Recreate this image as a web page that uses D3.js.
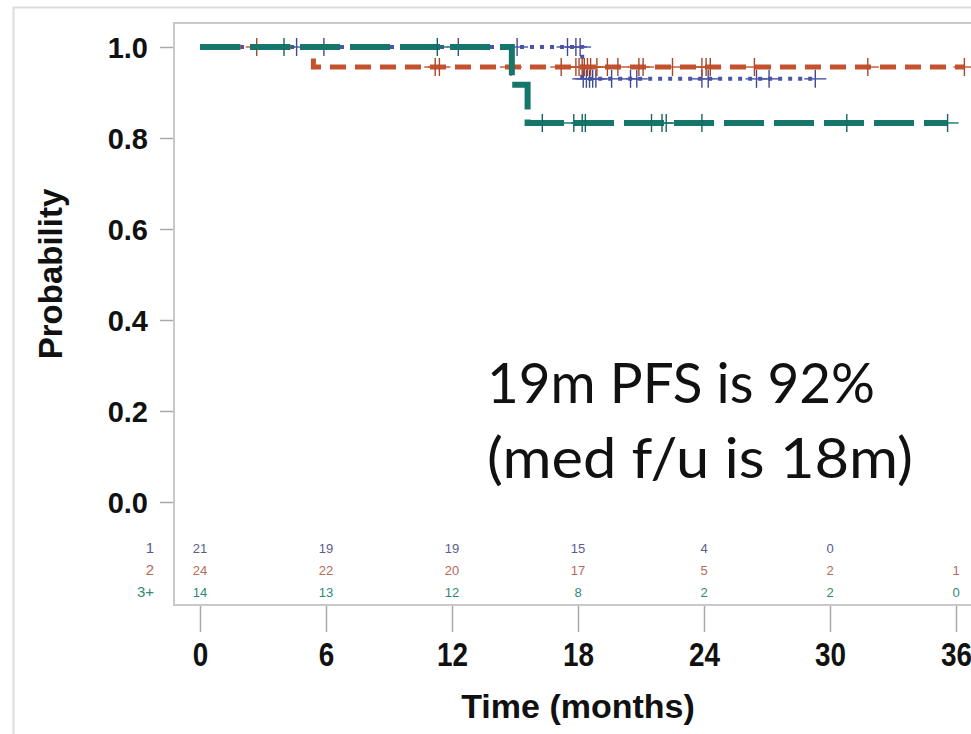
<!DOCTYPE html>
<html>
<head>
<meta charset="utf-8">
<script src="https://cdn.jsdelivr.net/npm/d3@7"></script>
<style>
  html, body { margin: 0; padding: 0; background: #fff; }
  svg { display: block; }
</style>
</head>
<body>
<svg id="chart" width="971" height="734"></svg>
<script>
// Kaplan-Meier PFS by group: step times (months) and survival after each step
const groups = ["1", "2", "3+"];
const stepTimes1 = [0, 18.2];
const stepSurv1  = [1.0, 0.93];
const endTime1   = 29.3;
const stepTimes2 = [0, 5.4];
const stepSurv2  = [1.0, 0.956];
const endTime2   = 36.4;
const stepTimes3 = [0, 14.85, 15.6];
const stepSurv3  = [1.0, 0.917, 0.833];
const endTime3   = 35.6;

// Censoring times (months)
const censor1 = [4.6, 5.9, 12.3, 15.1, 17.5, 17.9, 18.1, 18.25, 18.4, 18.55, 18.7, 18.85,
                 19.6, 20.5, 20.8, 23.9, 24.2, 26.5, 27.1, 29.3];
const censor2 = [2.7, 11.2, 11.4, 14.8, 17.2, 17.9, 18.05, 18.2, 18.3, 18.45, 18.6, 18.9,
                 19.4, 19.9, 20.9, 21.1, 22.5, 23.9, 24.1, 24.3, 26.4, 31.8, 36.4];
const censor3 = [4.0, 11.3, 16.3, 17.8, 18.2, 18.35, 21.5, 22.0, 22.2, 23.9, 30.8, 35.6];

// Number at risk
const riskTimes = [0, 6, 12, 18, 24, 30, 36];
const risk1 = [21, 19, 19, 15, 4, 0, null];
const risk2 = [24, 22, 20, 17, 5, 2, 1];
const risk3 = [14, 13, 12, 8, 2, 2, 0];

const xTicks = [0, 6, 12, 18, 24, 30, 36];
const yTicks = [0, 0.2, 0.4, 0.6, 0.8, 1.0];

const annotationLines = ["19m PFS is 92%", "(med f/u is 18m)"];

const lineColors  = ["#4a55a8", "#c4522e", "#16766b"];
const textColors  = ["#5b5b8e", "#b86a58", "#2f8a74"];

const svg = d3.select("#chart");
const x = d3.scaleLinear().domain([0, 36]).range([200, 956]);
const y = d3.scaleLinear().domain([0, 1]).range([502, 47]);

// outer panel border
svg.append("rect").attr("x", 13.5).attr("y", 7.5).attr("width", 1000).attr("height", 760)
  .attr("fill", "none").attr("stroke", "#dcdcdc").attr("stroke-width", 2);

// plot frame
svg.append("rect").attr("x", 174).attr("y", 23).attr("width", 900).attr("height", 582)
  .attr("fill", "none").attr("stroke", "#c9c9c9").attr("stroke-width", 2);

// y axis
const yAxis = svg.append("g").attr("transform", "translate(173,0)")
  .call(d3.axisLeft(y).tickValues(yTicks).tickFormat(d3.format(".1f")).tickSize(13).tickPadding(12));
yAxis.select(".domain").remove();
yAxis.selectAll(".tick line").attr("stroke", "#a8a8a8").attr("stroke-width", 1.5);
yAxis.selectAll(".tick text")
  .attr("font-family", "Liberation Sans, Arial, sans-serif")
  .attr("font-weight", "bold").attr("font-size", 29).attr("fill", "#111")
  .attr("dy", "0.36em");

// x axis (labels slightly condensed)
const xAxis = svg.append("g").attr("transform", "translate(0,606)")
  .call(d3.axisBottom(x).tickValues(xTicks).tickSize(26).tickPadding(10));
xAxis.select(".domain").remove();
xAxis.selectAll(".tick line").attr("stroke", "#a8a8a8").attr("stroke-width", 1.5);
xAxis.selectAll(".tick text")
  .attr("font-family", "Liberation Sans, Arial, sans-serif")
  .attr("font-weight", "bold").attr("font-size", 34).attr("fill", "#111")
  .attr("transform", "scale(0.82,1)");

// axis titles
svg.append("text").attr("x", 578).attr("y", 718).attr("text-anchor", "middle")
  .attr("font-family", "Liberation Sans, Arial, sans-serif").attr("font-weight", "bold")
  .attr("font-size", 34).attr("fill", "#111").text("Time (months)");
svg.append("text").attr("transform", "translate(62,274) rotate(-90)").attr("text-anchor", "middle")
  .attr("font-family", "Liberation Sans, Arial, sans-serif").attr("font-weight", "bold")
  .attr("font-size", 33).attr("fill", "#111").text("Probability");

// survival curves
const series = [
  { times: stepTimes1, surv: stepSurv1, end: endTime1, censor: censor1, dash: "4,6", width: 4 },
  { times: stepTimes2, surv: stepSurv2, end: endTime2, censor: censor2, dash: "16,9", width: 5 },
  { times: stepTimes3, surv: stepSurv3, end: endTime3, censor: censor3, dash: "40,10", width: 6 }
];

const stepLine = d3.line().x(d => x(d[0])).y(d => y(d[1])).curve(d3.curveStepAfter);

function survAt(s, t) {
  let v = s.surv[0];
  s.times.forEach((tt, i) => { if (tt <= t) v = s.surv[i]; });
  return v;
}

series.forEach((s, i) => {
  const pts = s.times.map((t, k) => [t, s.surv[k]]);
  pts.push([s.end, s.surv[s.surv.length - 1]]);
  const g = svg.append("g");
  g.append("path").attr("d", stepLine(pts)).attr("fill", "none")
    .attr("stroke", lineColors[i]).attr("stroke-width", s.width)
    .attr("stroke-dasharray", s.dash);
  // censor marks (+)
  const marks = g.selectAll(".cm").data(s.censor).enter().append("g")
    .attr("transform", d => `translate(${x(d)},${y(survAt(s, d))})`);
  marks.append("line").attr("x1", 0).attr("x2", 0).attr("y1", -9).attr("y2", 9)
    .attr("stroke", d3.color(lineColors[i]).darker(0.4)).attr("stroke-width", 1.4);
  marks.append("line").attr("x1", -11).attr("x2", 11).attr("y1", 0).attr("y2", 0)
    .attr("stroke", lineColors[i]).attr("stroke-width", 1.4);
});

// number-at-risk table
const riskRows = [risk1, risk2, risk3];
const rowY = [548, 570, 592];
riskRows.forEach((row, i) => {
  svg.append("text").attr("x", 154).attr("y", rowY[i]).attr("dy", "0.35em")
    .attr("text-anchor", "end").attr("font-family", "Liberation Sans, Arial, sans-serif")
    .attr("font-size", 15).attr("fill", textColors[i]).text(groups[i]);
  svg.selectAll(null).data(riskTimes.map((t, k) => [t, row[k]]).filter(d => d[1] !== null))
    .enter().append("text")
    .attr("x", d => x(d[0])).attr("y", rowY[i]).attr("dy", "0.35em")
    .attr("text-anchor", "middle").attr("font-family", "Liberation Sans, Arial, sans-serif")
    .attr("font-size", 13).attr("fill", textColors[i]).text(d => d[1]);
});

// annotation
const annY = [403, 478];
const annW = [388, 426];
annotationLines.forEach((t, i) => {
  svg.append("text").attr("x", 487).attr("y", annY[i])
    .attr("font-family", "Lato, 'Open Sans', sans-serif").attr("font-size", 56)
    .attr("fill", "#111").attr("textLength", annW[i]).attr("lengthAdjust", "spacingAndGlyphs")
    .text(t);
});
</script>
</body>
</html>
